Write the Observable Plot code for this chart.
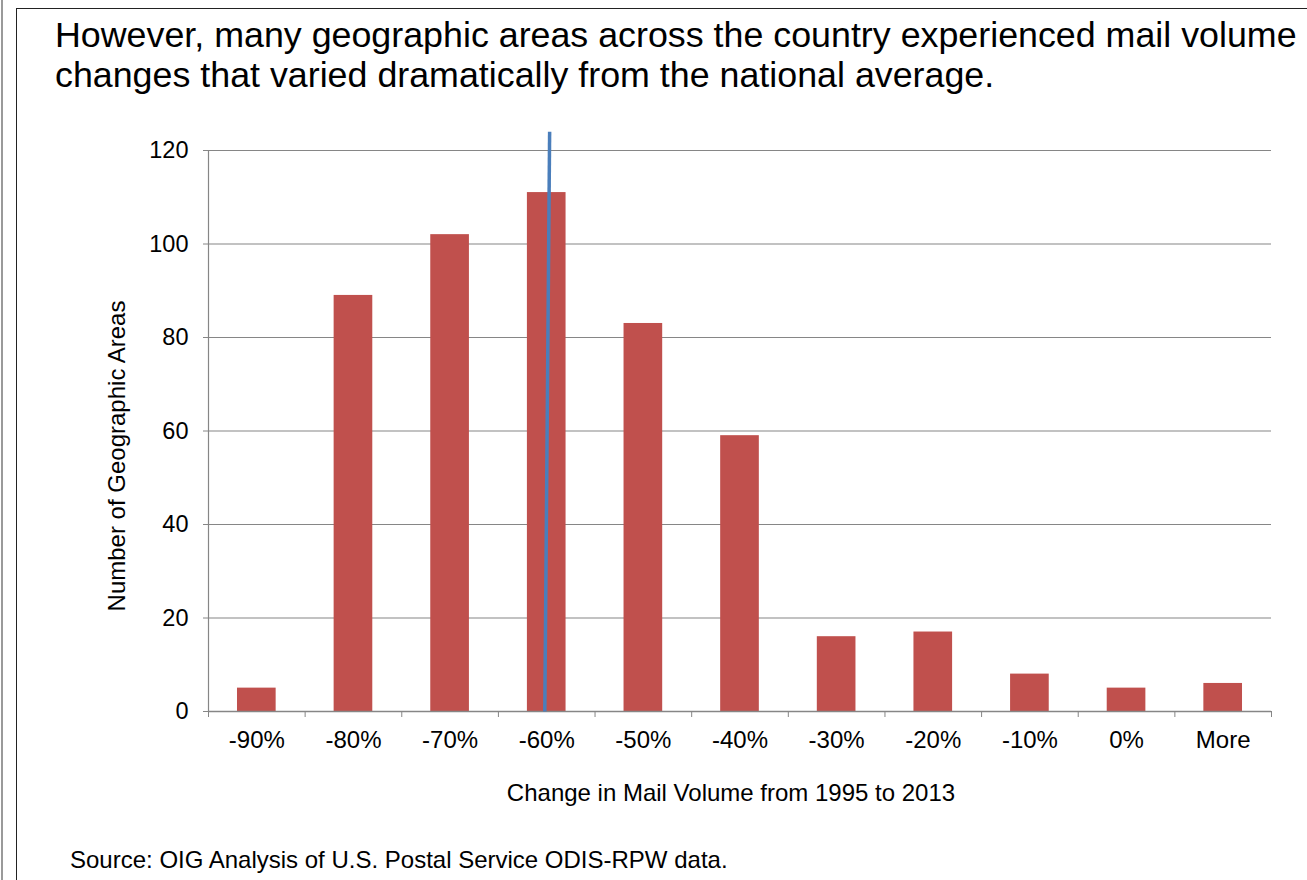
<!DOCTYPE html>
<html>
<head>
<meta charset="utf-8">
<script src="https://cdn.jsdelivr.net/npm/d3@7"></script>
<script src="https://cdn.jsdelivr.net/npm/@observablehq/plot@0.6"></script>
<style>
  html, body { margin: 0; padding: 0; background: #fff; }
  #page {
    position: relative; width: 1307px; height: 880px; overflow: hidden;
    font-family: "Liberation Sans", Arial, sans-serif; color: #000;
  }
  #edge { position: absolute; left: 1px; top: 0; width: 2px; height: 880px; background: #9a9a9a; }
  #frame {
    position: absolute; left: 16px; top: 8px; width: 1400px; height: 1000px;
    border-left: 1.5px solid #222; border-top: 1.5px solid #222;
  }
  #title {
    position: absolute; left: 55px; top: 14.5px; font-size: 35.8px; line-height: 40.5px;
    white-space: nowrap;
  }
  #chart { position: absolute; left: 0; top: 100px; }
  #source {
    position: absolute; left: 70px; top: 848px; font-size: 24px; line-height: 24px;
    white-space: nowrap;
  }
</style>
</head>
<body>
<div id="page">
  <div id="edge"></div>
  <div id="frame"></div>
  <div id="title">However, many geographic areas across the country experienced mail volume<br>changes that varied dramatically from the national average.</div>
  <div id="chart"></div>
  <div id="source">Source: OIG Analysis of U.S. Postal Service ODIS-RPW data.</div>
</div>
<script>
// Histogram bins (change in mail volume) and number of areas in each
const categories = ["-90%", "-80%", "-70%", "-60%", "-50%", "-40%", "-30%", "-20%", "-10%", "0%", "More"];
const counts = [5, 89, 102, 111, 83, 59, 16, 17, 8, 5, 6];
const yTicks = [0, 20, 40, 60, 80, 100, 120];

// National average marker, positioned in bin-index units (x) and counts (y)
const avgLineX = [2.98, 3.03];
const avgLineY = [0, 124];

const table = categories.map((c, i) => ({category: c, index: i, count: counts[i]}));
const centers = categories.map((c, i) => i);
const boundaries = d3.range(categories.length + 1).map(i => i - 0.5);
const avgLine = [{x1: avgLineX[0], y1: avgLineY[0], x2: avgLineX[1], y2: avgLineY[1]}];

const gray = "#868686";

const chart = Plot.plot({
  width: 1307,
  height: 740,
  marginLeft: 208,
  marginRight: 36,
  marginTop: 50,
  marginBottom: 129,
  x: {type: "linear", domain: [-0.5, categories.length - 0.5]},
  y: {domain: [0, 120]},
  style: {
    fontFamily: "'Liberation Sans', Arial, sans-serif",
    fontSize: "24px",
    color: "#000",
    background: "transparent",
    overflow: "visible"
  },
  marks: [
    Plot.gridY(yTicks, {stroke: gray, strokeOpacity: 1, strokeWidth: 1.2}),
    Plot.rect(table, {
      x1: d => d.index - 0.2,
      x2: d => d.index + 0.2,
      y1: 0,
      y2: "count",
      fill: "#C0504D"
    }),
    Plot.ruleX([-0.5], {y1: 0, y2: 120, stroke: gray, strokeWidth: 1.2}),
    Plot.ruleY([0], {stroke: gray, strokeWidth: 1.5}),
    Plot.axisY({ticks: yTicks, tickSize: 5, tickPadding: 15, stroke: gray, fill: "#000", label: null, fontSize: 23.5}),
    Plot.axisX({ticks: boundaries, tickSize: 6, tickFormat: () => "", stroke: gray, label: null}),
    Plot.axisX({ticks: centers, tickSize: 0, tickPadding: 19.5, tickFormat: i => categories[i], fill: "#000", label: null, fontSize: 24}),
    Plot.link(avgLine, {x1: "x1", y1: "y1", x2: "x2", y2: "y2", stroke: "#4A7EBB", strokeWidth: 3.5}),
    Plot.text(["Number of Geographic Areas"], {frameAnchor: "left", textAnchor: "middle", rotate: -90, dx: -91, dy: 25, fontSize: 24, fill: "#000"}),
    Plot.text(["Change in Mail Volume from 1995 to 2013"], {frameAnchor: "bottom", textAnchor: "middle", dx: -9, dy: 89, fontSize: 24, fill: "#000"})
  ]
});

document.getElementById("chart").appendChild(chart);
</script>
</body>
</html>
